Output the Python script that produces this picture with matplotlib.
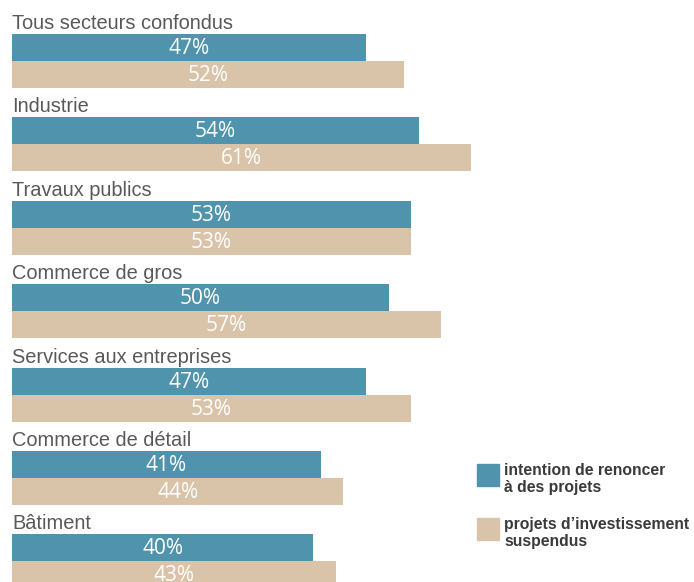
import numpy as np
from matplotlib import pyplot as plt
from matplotlib.patches import Rectangle

categories = ['Tous secteurs confondus', 'Industrie', 'Travaux publics', 'Commerce de gros',
              'Services aux entreprises', 'Commerce de détail', 'Bâtiment']
renoncer = [47, 54, 53, 50, 47, 41, 40]
suspendus = [52, 61, 53, 57, 53, 44, 43]
legend_labels = ['intention de renoncer\nà des projets', 'projets d\u2019investissement\nsuspendus']

blue = '#4f93ad'
beige = '#d9c3a9'

W, H = 694, 582
fig = plt.figure(figsize=(W / 100, H / 100), dpi=100)
ax = fig.add_axes([0, 0, 1, 1])

# x in percent, y in pixels (top down)
scale = 7.53
x0 = 12
ax.set_xlim(-x0 / scale, (W - x0) / scale)
ax.set_ylim(H, 0)
ax.axis('off')

pitch = 83.4
top0 = 34
bar_h = 27

for i, cat in enumerate(categories):
    top = top0 + i * pitch
    ax.barh(top + bar_h / 2, renoncer[i], height=bar_h, left=0, color=blue)
    ax.barh(top + bar_h * 1.5, suspendus[i], height=bar_h, left=0, color=beige)
    ax.text(0, top - 5, cat, fontsize=14.4, color='#595959', family='Liberation Sans',
            va='baseline', ha='left')
    ax.text(renoncer[i] / 2, top + bar_h / 2 + 1, f'{renoncer[i]}%', fontsize=15,
            color='white', family='Open Sans', ha='center', va='center')
    ax.text(suspendus[i] / 2, top + bar_h * 1.5 + 1, f'{suspendus[i]}%', fontsize=15,
            color='white', family='Open Sans', ha='center', va='center')

# legend drawn by hand in figure pixels
for j, (lab, col) in enumerate(zip(legend_labels, [blue, beige])):
    sy = 464 + j * 54
    fig.add_artist(Rectangle((477 / W, 1 - (sy + 22) / H), 22 / W, 22 / H,
                             transform=fig.transFigure, color=col))
    fig.text(504 / W, 1 - (sy - 1) / H, lab, fontsize=11.3, fontweight='bold',
             color='#3a3a3a', family='Liberation Sans', va='top', ha='left',
             linespacing=1.15)

plt.savefig('out.png', dpi=100)
